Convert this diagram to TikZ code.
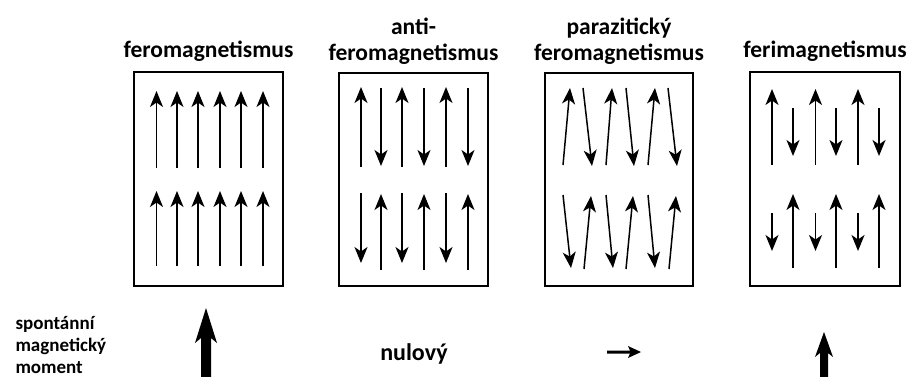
\documentclass[tikz,border=0pt]{standalone}
\usepackage{fontspec}
\setmainfont{Carlito}
\usetikzlibrary{arrows.meta}
\tikzset{
  panel/.style={draw=black, line width=1.4pt},
  spin/.style={line width=1.5pt, -{Stealth[length=16pt,width=13pt,inset=4.5pt]}},
  title/.style={anchor=base, align=center, font=\bfseries\fontsize{23.5}{26}\selectfont},
  bottomtext/.style={font=\bfseries\fontsize{19}{22}\selectfont},
  bigarrow/.style={fill=black, draw=none}
}
\begin{document}
\begin{tikzpicture}[x=1pt,y=-1pt]
\useasboundingbox (0,0) rectangle (912,376);
% panels
\draw[panel] (134,72) rectangle (283,286);
\draw[panel] (339,73) rectangle (488,286);
\draw[panel] (545,73) rectangle (693,286);
\draw[panel] (750,72) rectangle (900,286);
% titles
\node[title] (t1) at (208.5,57) {feromagnetismus};
\node[title] (t2) at (413.5,60) {anti-\\feromagnetismus};
\node[title] (t3) at (619,60) {parazitický\\feromagnetismus};
\node[title] (t4) at (825,57) {ferimagnetismus};
% panel 1: ferromagnetism
\foreach \x in {156.5,177,198,220,241,263}{
  \draw[spin] (\x,168) -- (\x,91);
  \draw[spin] (\x,266) -- (\x,191);
}
% panel 2: antiferromagnetism
\foreach \x in {361,402,446}{
  \draw[spin] (\x,167) -- (\x,87);
  \draw[spin] (\x,193) -- (\x,263);
}
\foreach \x in {381,424,468}{
  \draw[spin] (\x,88) -- (\x,166);
  \draw[spin] (\x,270) -- (\x,194);
}
% panel 3: parasitic ferromagnetism (canted)
\draw[spin] (563,165) -- (570,88);
\draw[spin] (583,88) -- (592,166);
\draw[spin] (606,165) -- (612,88);
\draw[spin] (626,88) -- (634,166);
\draw[spin] (648,165) -- (655,88);
\draw[spin] (668,88) -- (677,166);
\draw[spin] (563,195) -- (571,268);
\draw[spin] (584,269) -- (591,196);
\draw[spin] (606,195) -- (613,268);
\draw[spin] (626,269) -- (633,196);
\draw[spin] (648,195) -- (655,268);
\draw[spin] (669,269) -- (676,196);
% panel 4: ferrimagnetism
\foreach \x in {772,815.5,858}{
  \draw[spin] (\x,165) -- (\x,89);
  \draw[spin] (\x,213) -- (\x,251);
}
\foreach \x in {793,836,879}{
  \draw[spin] (\x,108) -- (\x,156);
  \draw[spin] (\x,268) -- (\x,194);
}
% bottom row
\node[bottomtext, anchor=base west, align=left] (lbl) at (12,373)
  {spontánní\\magnetický\\moment};
\fill[bigarrow] (206,308) -- (217,343) -- (211,338) -- (211,380) -- (201,380)
  -- (201,338) -- (195,343) -- cycle;
\node[bottomtext, anchor=base, font=\bfseries\fontsize{24}{26}\selectfont] (nul) at (414,360) {nulový};
\fill[bigarrow] (607,350.5) -- (630,350.5) -- (628,346) -- (641,352) -- (628,358)
  -- (630,353.5) -- (607,353.5) -- cycle;
\fill[bigarrow] (824,332) -- (833,357) -- (828,353) -- (828,380) -- (820,380)
  -- (820,353) -- (815,357) -- cycle;
\end{tikzpicture}
\end{document}
